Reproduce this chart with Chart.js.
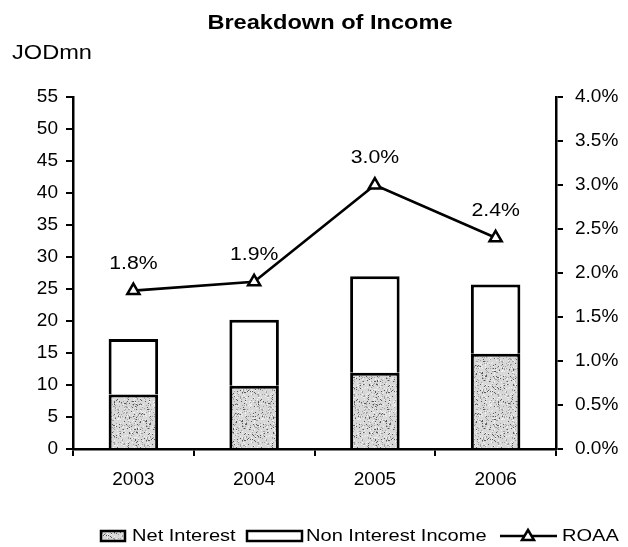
<!DOCTYPE html>
<html>
<head>
<meta charset="utf-8">
<script src="https://cdn.jsdelivr.net/npm/chart.js@4/dist/chart.umd.min.js"></script>
<style>
  html, body { margin: 0; padding: 0; background: #fff; }
  #wrap { width: 628px; height: 547px; }
</style>
</head>
<body>
<div id="wrap"><canvas id="c" width="628" height="547"></canvas></div>
<script>
// Income breakdown by year (JOD millions) and return on average assets (%)
const years = ['2003', '2004', '2005', '2006'];
const netInterest = [8.5, 9.9, 11.9, 14.9];
const nonInterestIncome = [8.7, 10.3, 15.1, 10.8];
const roaa = [1.8, 1.9, 3.0, 2.4];
const leftTicks = [0, 5, 10, 15, 20, 25, 30, 35, 40, 45, 50, 55];
const rightTicks = [0, 0.5, 1.0, 1.5, 2.0, 2.5, 3.0, 3.5, 4.0];

const FONT = "'Liberation Sans', Arial, sans-serif";
const STRETCH = 1.18; // slightly wide lettering

// Speckled grey texture for the net interest segments
function makeSpeckle() {
  const c = document.createElement('canvas');
  c.width = 48; c.height = 48;
  const g = c.getContext('2d');
  g.fillStyle = '#d8d8d8';
  g.fillRect(0, 0, 48, 48);
  let s = 12345;
  const next = () => { s = (s * 1103515245 + 12345) & 0x7fffffff; return s / 0x7fffffff; };
  for (let i = 0; i < 650; i++) {
    const x = Math.floor(next() * 48), y = Math.floor(next() * 48);
    const v = next();
    g.fillStyle = v < 0.22 ? '#5a5a5a' : (v < 0.6 ? '#a0a0a0' : '#f2f2f2');
    g.fillRect(x, y, 1, 1);
  }
  return g.createPattern(c, 'repeat');
}
const speckle = makeSpeckle();

// Draws text widened horizontally around its anchor
function wideText(ctx, text, x, y, align) {
  ctx.save();
  ctx.translate(x, y);
  ctx.scale(STRETCH, 1);
  ctx.textAlign = align;
  ctx.fillText(text, 0, 0);
  ctx.restore();
}

// Title, unit caption, value labels and legend
const decorations = {
  id: 'decorations',
  afterDraw(chart) {
    const ctx = chart.ctx;
    ctx.save();
    ctx.fillStyle = '#000';
    ctx.textBaseline = 'middle';
    ctx.font = `bold 20px ${FONT}`;
    wideText(ctx, 'Breakdown of Income', 330, 23, 'center');
    ctx.font = `20px ${FONT}`;
    wideText(ctx, 'JODmn', 12, 53, 'left');

    // ROAA value labels
    ctx.font = `18px ${FONT}`;
    const meta = chart.getDatasetMeta(2);
    meta.data.forEach((pt, i) => {
      wideText(ctx, roaa[i].toFixed(1) + '%', pt.x, pt.y - 27, 'center');
    });

    // Legend
    ctx.font = `17px ${FONT}`;
    const ly = 536;
    ctx.lineWidth = 2.5;
    ctx.strokeStyle = '#000';
    ctx.fillStyle = speckle;
    ctx.fillRect(101, ly - 5, 24, 10);
    ctx.strokeRect(101, ly - 5, 24, 10);
    ctx.fillStyle = '#000';
    wideText(ctx, 'Net Interest', 132, ly, 'left');
    ctx.fillStyle = '#fff';
    ctx.fillRect(247, ly - 5, 55, 10);
    ctx.strokeRect(247, ly - 5, 55, 10);
    ctx.fillStyle = '#000';
    wideText(ctx, 'Non Interest Income', 306, ly, 'left');
    ctx.beginPath();
    ctx.moveTo(500, ly); ctx.lineTo(557, ly);
    ctx.stroke();
    ctx.beginPath();
    ctx.moveTo(528, ly - 6); ctx.lineTo(534, ly + 4); ctx.lineTo(522, ly + 4); ctx.closePath();
    ctx.fillStyle = '#fff'; ctx.fill(); ctx.stroke();
    ctx.fillStyle = '#000';
    wideText(ctx, 'ROAA', 562, ly, 'left');
    ctx.restore();
  }
};

new Chart(document.getElementById('c'), {
  data: {
    labels: years,
    datasets: [
      {
        type: 'bar', label: 'Net Interest', data: netInterest, yAxisID: 'y',
        backgroundColor: speckle, borderColor: '#000', borderWidth: 3,
        categoryPercentage: 1, barPercentage: 0.41, order: 2, stack: 's'
      },
      {
        type: 'bar', label: 'Non Interest Income', data: nonInterestIncome, yAxisID: 'y',
        backgroundColor: '#fff', borderColor: '#000', borderWidth: 3,
        categoryPercentage: 1, barPercentage: 0.41, order: 2, stack: 's'
      },
      {
        type: 'line', label: 'ROAA', data: roaa, yAxisID: 'y2',
        borderColor: '#000', borderWidth: 2.6, pointStyle: 'triangle',
        pointRadius: 7, pointBackgroundColor: '#fff', pointBorderColor: '#000',
        pointBorderWidth: 2.5, order: 0
      }
    ]
  },
  options: {
    responsive: false,
    animation: false,
    devicePixelRatio: 1,
    layout: { padding: { top: 97, bottom: 52, left: 0, right: 0 } },
    plugins: { legend: { display: false }, title: { display: false }, tooltip: { enabled: false } },
    scales: {
      x: {
        stacked: true,
        grid: { display: true, drawOnChartArea: false, drawTicks: true, tickLength: 7, color: '#000', lineWidth: 2, offset: true },
        border: { display: true, color: '#000', width: 2.5 },
        ticks: { color: '#000', font: { family: FONT, size: 19 }, padding: 12 },
        afterFit(s) { s.height = 46; }
      },
      y: {
        stacked: true, position: 'left', min: 0, max: 55,
        afterBuildTicks(s) { s.ticks = leftTicks.map(v => ({ value: v })); },
        grid: { display: true, drawOnChartArea: false, drawTicks: true, tickLength: 7, color: '#000', lineWidth: 2 },
        border: { display: true, color: '#000', width: 2.5 },
        ticks: { color: '#000', font: { family: FONT, size: 19 }, padding: 8 },
        afterFit(s) { s.width = 73; }
      },
      y2: {
        position: 'right', min: 0, max: 4,
        afterBuildTicks(s) { s.ticks = rightTicks.map(v => ({ value: v })); },
        grid: { display: true, drawOnChartArea: false, drawTicks: true, tickLength: 7, color: '#000', lineWidth: 2 },
        border: { display: true, color: '#000', width: 2.5 },
        ticks: { color: '#000', font: { family: FONT, size: 19 }, padding: 12, callback: v => v.toFixed(1) + '%' },
        afterFit(s) { s.width = 72; }
      }
    }
  },
  plugins: [decorations]
});
</script>
</body>
</html>
